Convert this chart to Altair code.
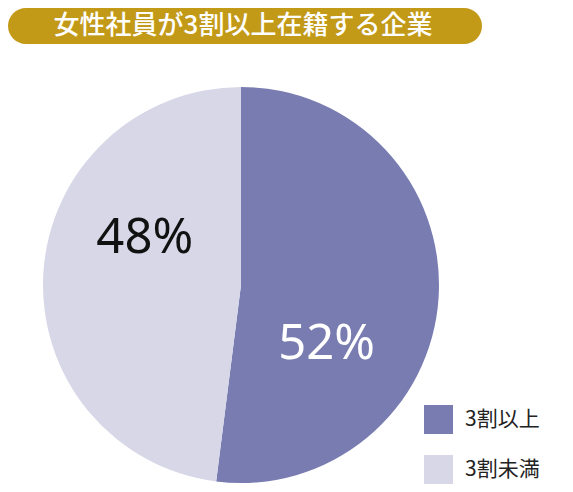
import altair as alt
import pandas as pd

title_text = "女性社員が3割以上在籍する企業"
categories = ["3割以上", "3割未満"]
shares = [52, 48]
labels = ["52%", "48%"]
colours = ["#787cb1", "#d8d7e8"]

df = pd.DataFrame({"cat": categories, "value": shares, "label": labels,
                   "order": list(range(len(categories)))})

W, H = 557, 476
CX, CY, R = 233, 277, 198
JP = "Noto Sans CJK JP"

# gold pill behind the heading
pill = alt.Chart(pd.DataFrame({"t": [title_text]})).mark_rect(
    color="#c29a18", cornerRadius=18
).encode(x=alt.value(0), x2=alt.value(474), y=alt.value(0), y2=alt.value(36))

heading = alt.Chart(pd.DataFrame({"t": [title_text]})).mark_text(
    font=JP, fontSize=26, fontWeight=500, color="white",
    align="center", baseline="middle",
).encode(x=alt.value(235), y=alt.value(18), text="t:N")

pie = alt.Chart(df).mark_arc(radius=R, stroke=None).encode(
    theta=alt.Theta("value:Q", stack=True),
    order=alt.Order("order:Q"),
    color=alt.Color(
        "cat:N",
        scale=alt.Scale(domain=categories, range=colours),
        sort=categories,
        legend=alt.Legend(
            title=None, orient="none", legendX=416, legendY=397,
            symbolType="square", symbolSize=841, symbolStrokeWidth=0,
            symbolOpacity=1, labelFont=JP, labelFontSize=21,
            labelColor="#222222", labelOffset=12, rowPadding=21, padding=0,
        ),
    ),
    x=alt.value(CX), y=alt.value(CY),
)

# label angles: middle of each slice, pushed a little clockwise
base = alt.Chart(df).transform_joinaggregate(
    total="sum(value)"
).transform_window(
    cum="sum(value)", sort=[{"field": "order"}]
).transform_calculate(
    mid="2 * PI * (datum.cum - datum.value / 2) / datum.total"
)


def slice_label(cat, shift, radius, colour):
    return base.transform_filter(alt.datum.cat == cat).transform_calculate(
        ang=f"datum.mid + {shift}"
    ).mark_text(
        font="Noto Sans", fontSize=49, color=colour,
        align="center", baseline="middle", radius=radius, dy=2,
    ).encode(
        theta=alt.Theta("ang:Q", scale=None),
        x=alt.value(CX), y=alt.value(CY),
        text="label:N",
    )


chart = alt.layer(
    pie,
    slice_label("3割以上", 0.527, 103, "white"),
    slice_label("3割未満", 0.408, 108, "#111111"),
    pill,
    heading,
).properties(
    width=W, height=H, autosize=alt.AutoSizeParams(type="none"), padding=0
).configure_view(stroke=None)

chart.save("out.html", embed_options={"renderer": "svg", "actions": False})
